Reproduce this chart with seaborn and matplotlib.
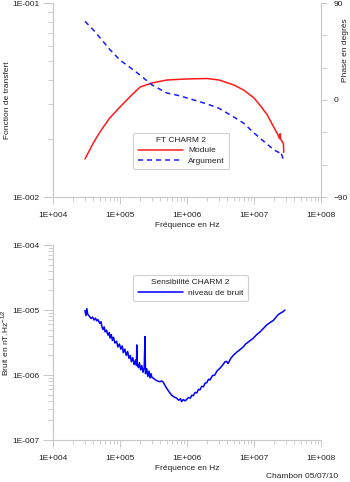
import numpy as np
import pandas as pd
import matplotlib
matplotlib.use('Agg')
import matplotlib.pyplot as plt
import seaborn as sns
from matplotlib.ticker import LogLocator, FuncFormatter, NullFormatter, FixedLocator

# ---------------- data ----------------
freq_mod = [3e4, 4e4, 5e4, 7e4, 1e5, 1.5e5, 2e5, 3e5, 5e5, 1e6, 2e6, 3e6, 5e6, 7e6,
            1e7, 1.3e7, 1.45e7, 1.55e7, 2e7, 2.3e7, 2.4e7, 2.45e7, 2.5e7, 2.6e7,
            2.7e7, 2.75e7, 2.78e7]
module = [1.57e-2, 1.9e-2, 2.16e-2, 2.55e-2, 2.91e-2, 3.36e-2, 3.69e-2, 3.87e-2,
          4.01e-2, 4.06e-2, 4.08e-2, 4.01e-2, 3.78e-2, 3.56e-2, 3.24e-2, 2.9e-2,
          2.75e-2, 2.68e-2, 2.27e-2, 2.08e-2, 2.0e-2, 2.12e-2, 1.98e-2, 1.95e-2,
          1.9e-2, 1.88e-2, 1.7e-2]

freq_arg = [3e4, 4e4, 5e4, 7e4, 1e5, 1.5e5, 2e5, 3e5, 5e5, 7e5, 1e6, 2e6, 3e6,
            5e6, 7e6, 1e7, 1.5e7, 2e7, 2.4e7, 2.5e7, 2.6e7, 2.8e7]
phase = [73, 65, 58, 47, 37, 29, 23, 14, 6.5, 4.6, 1.9, -3.7, -7.7, -15.8,
         -21.5, -30.6, -40, -46.4, -49, -48, -51, -57]

freq_noise = [3.0e4, 3.1e4, 3.2e4, 3.3e4, 3.5e4, 3.7e4, 3.9e4, 4.1e4, 4.3e4, 4.5e4,
              4.7e4, 5.0e4, 5.2e4, 5.4e4, 5.6e4, 5.8e4, 6.0e4, 6.3e4, 6.6e4, 6.9e4,
              7.1e4, 7.4e4, 7.7e4, 8.0e4, 8.4e4, 8.9e4, 9.3e4, 9.8e4, 1.03e5, 1.08e5,
              1.12e5, 1.18e5, 1.24e5, 1.30e5, 1.36e5, 1.42e5, 1.48e5, 1.55e5, 1.62e5,
              1.70e5, 1.76e5, 1.78e5, 1.80e5, 1.88e5, 1.95e5, 2.03e5, 2.12e5, 2.20e5,
              2.30e5, 2.36e5, 2.40e5, 2.50e5, 2.60e5, 2.70e5, 2.80e5, 2.90e5, 3.0e5,
              3.15e5, 3.4e5, 3.7e5, 3.95e5, 4.2e5, 4.4e5, 4.7e5, 5.0e5, 5.4e5, 5.9e5,
              6.4e5, 7.0e5, 7.5e5, 8.0e5, 8.3e5, 8.8e5, 9.3e5, 9.9e5, 1.05e6, 1.12e6,
              1.18e6, 1.24e6, 1.32e6, 1.40e6, 1.48e6, 1.56e6, 1.66e6, 1.76e6, 1.86e6,
              1.97e6, 2.1e6, 2.2e6, 2.4e6, 2.6e6, 2.8e6, 3.1e6, 3.4e6, 3.7e6, 3.9e6,
              4.1e6, 4.5e6, 4.9e6, 5.4e6, 6.0e6, 6.9e6, 7.5e6, 8.5e6, 9.8e6, 1.1e7,
              1.23e7, 1.38e7, 1.55e7, 1.73e7, 1.94e7, 2.1e7, 2.3e7, 2.5e7, 2.7e7, 2.9e7]
noise = [9.8e-6, 8.2e-6, 1.05e-5, 8.6e-6, 8.0e-6, 7.4e-6, 7.8e-6, 7.0e-6, 7.5e-6, 6.8e-6,
         7.1e-6, 6.2e-6, 6.6e-6, 5.4e-6, 5.0e-6, 5.5e-6, 4.6e-6, 4.9e-6, 4.1e-6, 4.5e-6,
         3.7e-6, 4.2e-6, 3.4e-6, 3.8e-6, 3.1e-6, 3.3e-6, 2.7e-6, 3.0e-6, 2.5e-6, 2.8e-6,
         2.2e-6, 2.5e-6, 2.0e-6, 2.3e-6, 1.8e-6, 2.0e-6, 1.6e-6, 1.85e-6, 1.45e-6,
         1.7e-6, 1.4e-6, 2.9e-6, 1.5e-6, 1.3e-6, 1.55e-6, 1.2e-6, 1.4e-6, 1.1e-6,
         1.3e-6, 3.9e-6, 1.05e-6, 1.25e-6, 0.95e-6, 1.15e-6, 0.9e-6, 1.05e-6, 0.92e-6,
         8.9e-7, 8.4e-7, 8.0e-7, 7.9e-7, 8.1e-7, 7.8e-7, 6.9e-7, 6.2e-7, 5.5e-7, 4.9e-7,
         4.6e-7, 4.4e-7, 4.1e-7, 4.3e-7, 3.9e-7, 4.2e-7, 4.0e-7, 4.2e-7, 4.5e-7, 4.4e-7,
         4.9e-7, 4.8e-7, 5.4e-7, 5.3e-7, 6.0e-7, 5.9e-7, 6.7e-7, 6.6e-7, 7.5e-7,
         7.6e-7, 8.6e-7, 8.4e-7, 9.8e-7, 1.0e-6, 1.15e-6, 1.27e-6, 1.42e-6, 1.6e-6, 1.62e-6,
         1.5e-6, 1.8e-6, 2.0e-6, 2.2e-6, 2.4e-6, 2.7e-6, 3.0e-6, 3.3e-6, 3.7e-6, 4.2e-6,
         4.6e-6, 5.2e-6, 5.9e-6, 6.4e-6, 6.9e-6, 7.6e-6, 8.5e-6, 9.0e-6, 9.4e-6, 1.0e-5]

x_label = "Fréquence en Hz"
top_ylabel = "Fonction de transfert"
right_ylabel = "Phase en degrés"
bottom_ylabel = r"Bruit en nT.Hz$^{\mathregular{-1/2}}$"
legend1_title = "FT CHARM 2"
legend1_labels = ["Module", "Argument"]
legend2_title = "Sensibilité CHARM 2"
legend2_labels = ["niveau de bruit"]
footer = "Chambon 05/07/10"
phase_ticks = [90, 0, -90]
phase_minor = [60, 30, -30, -60]

# ---------------- style ----------------
sns.set_style('white')
plt.rcParams['font.family'] = ['Liberation Sans', 'DejaVu Sans']
plt.rcParams['font.size'] = 6
GR = '#c8c8c8'
TXT = '#222222'

fig = plt.figure(figsize=(3.5, 4.82), dpi=100)
W, H = 350.0, 482.0
ax1 = fig.add_axes([53 / W, 1 - 197 / H, 268 / W, 194 / H])
ax2 = ax1.twinx()
ax3 = fig.add_axes([53 / W, 1 - 440 / H, 268 / W, 195 / H])

def sci(v, _):
    if v <= 0:
        return ''
    return "1E%+04d" % int(round(np.log10(v)))

df_mod = pd.DataFrame({'f': freq_mod, 'v': module})
df_arg = pd.DataFrame({'f': freq_arg, 'v': phase})
df_noise = pd.DataFrame({'f': freq_noise, 'v': noise})

sns.lineplot(data=df_mod, x='f', y='v', ax=ax1, color='#ff1a1a', lw=1.1,
             estimator=None, sort=False)
sns.lineplot(data=df_arg, x='f', y='v', ax=ax2, color='#1a1aff', lw=1.1,
             estimator=None, sort=False)
ax2.lines[0].set_dashes([3.3, 2.6])
sns.lineplot(data=df_noise, x='f', y='v', ax=ax3, color='#0000ff', lw=1.1,
             estimator=None, sort=False)

for ax in (ax1, ax3):
    ax.set_xscale('log')
    ax.set_yscale('log')
    ax.set_xlim(1e4, 1e8)
    ax.xaxis.set_major_locator(LogLocator(base=10, numticks=10))
    ax.xaxis.set_minor_locator(LogLocator(base=10, subs=range(2, 10), numticks=20))
    ax.yaxis.set_major_locator(LogLocator(base=10, numticks=10))
    ax.yaxis.set_minor_locator(LogLocator(base=10, subs=range(2, 10), numticks=20))
    ax.xaxis.set_major_formatter(FuncFormatter(sci))
    ax.yaxis.set_major_formatter(FuncFormatter(sci))
    ax.xaxis.set_minor_formatter(NullFormatter())
    ax.yaxis.set_minor_formatter(NullFormatter())
    for s in ('top', 'right'):
        ax.spines[s].set_visible(False)
    for s in ('left', 'bottom'):
        ax.spines[s].set_visible(True)
        ax.spines[s].set_color(GR)
        ax.spines[s].set_linewidth(0.8)
    ax.tick_params(axis='x', which='major', bottom=True, direction='out', length=5,
                   width=0.7, color=GR, labelcolor=TXT, labelsize=6, pad=6)
    ax.tick_params(axis='x', which='minor', bottom=True, direction='out', length=3,
                   width=0.6, color=GR)
    ax.tick_params(axis='y', which='major', left=True, direction='out', length=7,
                   width=0.7, color=GR, labelcolor=TXT, labelsize=6, pad=3)
    ax.tick_params(axis='y', which='minor', left=True, direction='out', length=3.5,
                   width=0.6, color=GR)
    ax.set_xlabel(x_label, fontsize=6, color=TXT)

ax1.set_ylim(1e-2, 1e-1)
ax3.set_ylim(1e-7, 1e-4)

ax2.set_ylim(-90, 90)
ax2.yaxis.set_major_locator(FixedLocator(phase_ticks))
ax2.yaxis.set_minor_locator(FixedLocator(phase_minor))
for s in ('top', 'left', 'bottom'):
    ax2.spines[s].set_visible(False)
ax2.spines['right'].set_visible(True)
ax2.spines['right'].set_color(GR)
ax2.spines['right'].set_linewidth(0.8)
ax2.tick_params(axis='y', which='major', right=True, left=False, direction='out',
                length=4, width=0.7, color=GR, labelcolor=TXT, labelsize=6, pad=5)
ax2.tick_params(axis='y', which='minor', right=True, left=False, direction='out',
                length=4, width=0.6, color=GR)
ax2.grid(False)
ax1.grid(False)
ax3.grid(False)

ax1.set_ylabel(top_ylabel, fontsize=6, color=TXT)
ax1.yaxis.set_label_coords(-0.158, 0.5)
ax2.set_ylabel(right_ylabel, fontsize=6, color=TXT)
ax2.yaxis.set_label_coords(1.078, 0.758)
ax3.set_ylabel(bottom_ylabel, fontsize=6, color=TXT)
ax3.yaxis.set_label_coords(-0.158, 0.5)
ax1.xaxis.set_label_coords(0.5, -0.128)
ax3.xaxis.set_label_coords(0.5, -0.128)

for ax in (ax1, ax2, ax3):
    lg = ax.get_legend()
    if lg is not None:
        lg.remove()

leg1 = ax2.legend([ax1.lines[0], ax2.lines[0]], legend1_labels, title=legend1_title,
                  loc='upper left', bbox_to_anchor=(0.30, 0.33), frameon=True,
                  fancybox=True, edgecolor='#d0d0d0', facecolor='white', framealpha=1,
                  fontsize=6, title_fontsize=6, handlelength=5.5, handletextpad=0.6,
                  labelspacing=0.3, borderpad=0.5, borderaxespad=0)
leg1.get_frame().set_linewidth(0.8)
for t in leg1.get_texts():
    t.set_color(TXT)
leg1.get_title().set_color(TXT)

leg2 = ax3.legend([ax3.lines[0]], legend2_labels, title=legend2_title,
                  loc='upper left', bbox_to_anchor=(0.30, 0.846), frameon=True,
                  fancybox=True, edgecolor='#d0d0d0', facecolor='white', framealpha=1,
                  fontsize=6, title_fontsize=6, handlelength=5.5, handletextpad=0.6,
                  labelspacing=0.3, borderpad=0.5, borderaxespad=0)
leg2.get_frame().set_linewidth(0.8)
for t in leg2.get_texts():
    t.set_color(TXT)
leg2.get_title().set_color(TXT)

fig.text(338 / W, 1 - 477 / H, footer, ha='right', va='center', fontsize=6, color=TXT)

fig.savefig('out.png', dpi=100)
